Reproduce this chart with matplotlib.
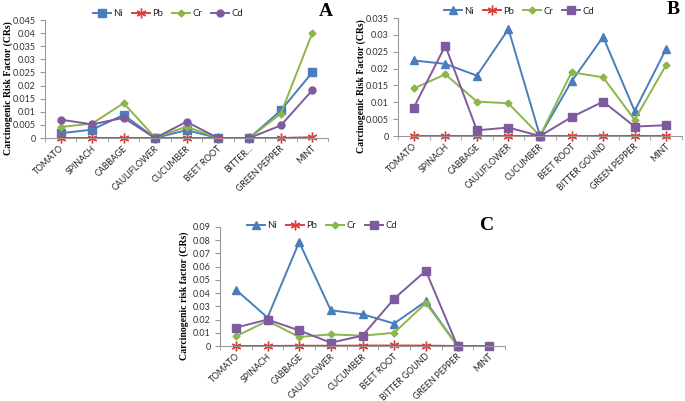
import numpy as np
import matplotlib
matplotlib.use("Agg")
import matplotlib.pyplot as plt
from matplotlib.ticker import FixedLocator

nan = np.nan
cats_A = ["TOMATO", "SPINACH", "CABBAGE", "CAULIFLOWER", "CUCUMBER", "BEET ROOT", "BITTER...", "GREEN PEPPER", "MINT"]
cats_BC = ["TOMATO", "SPINACH", "CABBAGE", "CAULIFLOWER", "CUCUMBER", "BEET ROOT", "BITTER GOUND", "GREEN PEPPER", "MINT"]

A_Ni = [0.0018, 0.0032, 0.0088, 0.0, 0.0030, 0.0, 0.0, 0.0105, 0.0250]
A_Pb = [0.0, 0.0, 0.0, 0.0, 0.0, 0.0, 0.0, 0.0, 0.0003]
A_Cr = [0.0042, 0.0055, 0.0133, 0.0002, 0.0043, 0.0, 0.0, 0.0093, 0.0400]
A_Cd = [0.0070, 0.0052, 0.0077, 0.0, 0.0062, 0.0, 0.0, 0.0048, 0.0182]

B_Ni = [0.0224, 0.0214, 0.0179, 0.0317, 0.0, 0.0162, 0.0294, 0.0074, 0.0259]
B_Pb = [0.0, 0.0, 0.0, 0.0, 0.0, 0.0, 0.0, 0.0, 0.0]
B_Cr = [0.0141, 0.0183, 0.0102, 0.0097, 0.0, 0.0189, 0.0174, 0.0048, 0.0211]
B_Cd = [0.0084, 0.0268, 0.0017, 0.0025, 0.0, 0.0056, 0.0102, 0.0028, 0.0032]

C_Ni = [0.0426, 0.0215, 0.0786, 0.0270, 0.0240, 0.0170, 0.0338, 0.0, nan]
C_Pb = [0.0, 0.0, 0.0002, 0.0002, 0.0003, 0.0004, 0.0003, 0.0, nan]
C_Cr = [0.0073, 0.0190, 0.0068, 0.0088, 0.0078, 0.0100, 0.0325, 0.0, nan]
C_Cd = [0.0139, 0.0200, 0.0118, 0.0025, 0.0078, 0.0358, 0.0569, 0.0, 0.0]

A_ticks = [0, 0.005, 0.01, 0.015, 0.02, 0.025, 0.03, 0.035, 0.04, 0.045]
B_ticks = [0, 0.005, 0.01, 0.015, 0.02, 0.025, 0.03, 0.035]
C_ticks = [0, 0.01, 0.02, 0.03, 0.04, 0.05, 0.06, 0.07, 0.08, 0.09]

blue = "#4a7ebb"
red = "#d9413c"
green = "#8cb54a"
purple = "#7d5b9e"
SANS = ["Lato", "DejaVu Sans"]

W, H = 685, 401
fig = plt.figure(figsize=(W / 100, H / 100), dpi=100)

def px_axes(x0, y0, x1, y1):
    return fig.add_axes([x0 / W, 1 - y1 / H, (x1 - x0) / W, (y1 - y0) / H])

def panel(ax, cats, series, markers, ticks, ylabel, label, label_xy, legend_xy, ylab_x):
    x = np.arange(len(cats))
    names = ["Ni", "Pb", "Cr", "Cd"]
    cols = [blue, red, green, purple]
    sizes = {"s": 5.5, "^": 5.5, "x": 6, "D": 3.5, "o": 5}
    handles = []
    for vals, name, col, mk in zip(series, names, cols, markers):
        kw = dict(color=col, lw=1.4, marker=mk, ms=sizes[mk], label=name)
        if mk == "x":
            kw.update(marker=(6, 2, 0), mew=1.0, ms=7)
        elif mk == "D":
            kw.update(mec=col)
        h, = ax.plot(x, vals, **kw)
        h.set_clip_on(False)
        handles.append(h)
    ax.set_xlim(-0.5, len(cats) - 0.5)
    ax.set_ylim(0, ticks[-1])
    ax.set_yticks(ticks)
    ax.set_yticklabels(["0" if t == 0 else ("%g" % t) for t in ticks], fontsize=6.5, color="#333333",
                       family=SANS)
    ax.set_xticks(x + 0.07)
    ax.set_xticklabels(cats, rotation=44, ha="right", va="center", rotation_mode="anchor",
                       fontsize=6.3, color="#222222", family=SANS)
    ax.xaxis.set_minor_locator(FixedLocator(np.arange(-0.5, len(cats), 1.0)))
    ax.tick_params(axis="x", which="major", length=0, pad=6.5)
    ax.tick_params(axis="x", which="minor", length=3, color="#999999")
    ax.tick_params(axis="y", length=3.5, color="#999999", pad=3)
    for s in ["top", "right"]:
        ax.spines[s].set_visible(False)
    for s in ["left", "bottom"]:
        ax.spines[s].set_color("#999999")
        ax.spines[s].set_linewidth(0.8)
    ax.patch.set_alpha(0)
    pos = ax.get_position()
    fig.text(ylab_x / W, pos.y0 + pos.height * 0.42, ylabel, rotation=90, ha="center", va="center",
             fontsize=7.0, fontweight="bold", family="Liberation Serif")
    fig.text(label_xy[0] / W, 1 - label_xy[1] / H, label, fontsize=14, fontweight="bold",
             family="Liberation Serif", ha="center", va="center")
    leg = fig.legend(handles=handles, loc="center", bbox_to_anchor=(legend_xy[0] / W, 1 - legend_xy[1] / H),
                     ncol=4, frameon=False, prop={"family": SANS, "size": 6.8}, handlelength=1.9,
                     columnspacing=0.9, handletextpad=0.3)
    for t in leg.get_texts():
        t.set_color("#222222")

axA = px_axes(45, 20, 328, 138)
panel(axA, cats_A, [A_Ni, A_Pb, A_Cr, A_Cd], ["s", "x", "D", "o"], A_ticks,
      "Carcinogenic Risk Factor (CRs)", "A", (326, 12), (168, 14), 8)

axB = px_axes(398, 18, 682, 136)
panel(axB, cats_BC, [B_Ni, B_Pb, B_Cr, B_Cd], ["^", "x", "D", "s"], B_ticks,
      "Carcinogenic Risk Factor (CRs)", "B", (673, 10), (519, 11), 361)

axC = px_axes(220, 227, 505, 346)
panel(axC, cats_BC, [C_Ni, C_Pb, C_Cr, C_Cd], ["^", "x", "D", "s"], C_ticks,
      "Carcinogenic risk factor (CRs)", "C", (487, 225), (322, 226), 184)

fig.savefig("out.png", dpi=100)
